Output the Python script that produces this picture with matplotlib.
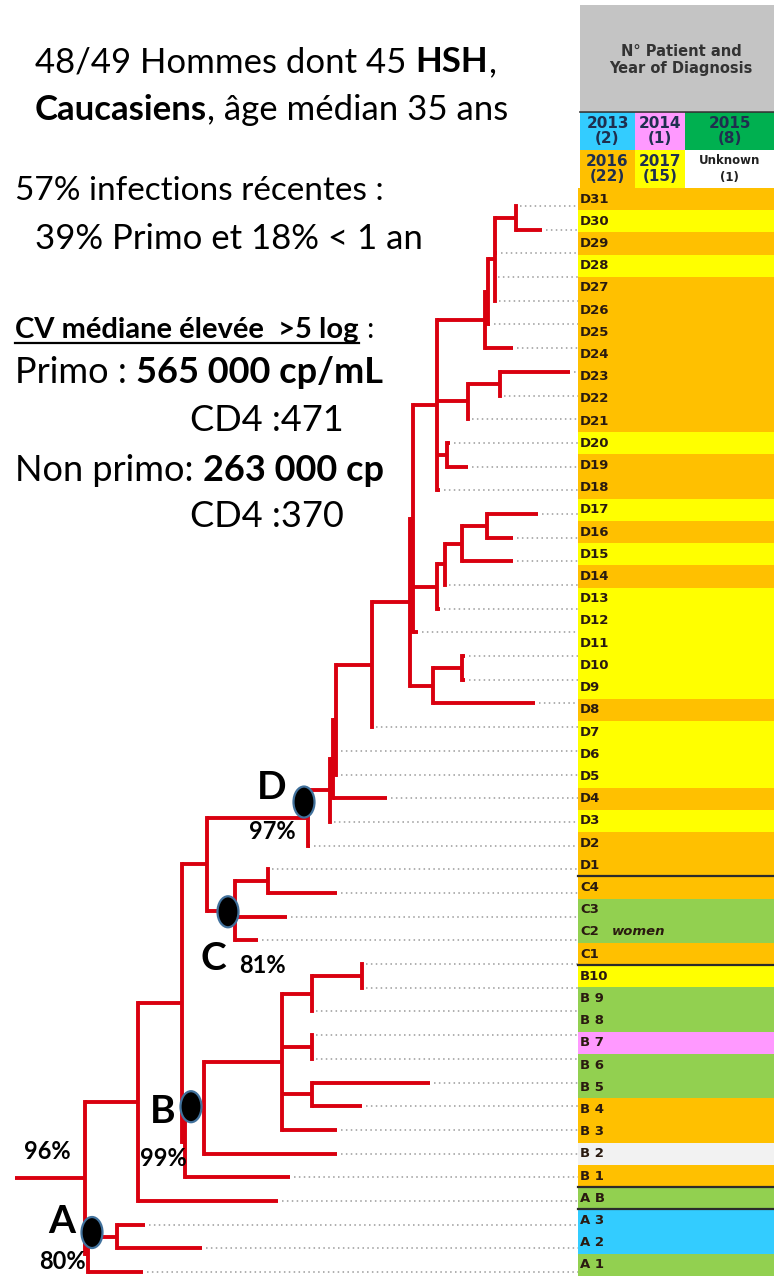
import matplotlib
matplotlib.use("Agg")
import matplotlib.pyplot as plt
from matplotlib.patches import Rectangle, Ellipse

FONT = "Lato"
TFONT = "DejaVu Sans"
RED = "#d9000f"

# patients (table rows, top to bottom) and year of diagnosis
patients = ["D31", "D30", "D29", "D28", "D27", "D26", "D25", "D24", "D23", "D22",
            "D21", "D20", "D19", "D18", "D17", "D16", "D15", "D14", "D13", "D12",
            "D11", "D10", "D9", "D8", "D7", "D6", "D5", "D4", "D3", "D2", "D1",
            "C4", "C3", "C2", "C1",
            "B10", "B 9", "B 8", "B 7", "B 6", "B 5", "B 4", "B 3", "B 2", "B 1",
            "A B", "A 3", "A 2", "A 1"]
diag_year = ["2016", "2017", "2016", "2017", "2016", "2016", "2016", "2016", "2016", "2016",
             "2016", "2017", "2016", "2016", "2017", "2016", "2017", "2016", "2017", "2017",
             "2017", "2017", "2017", "2016", "2017", "2017", "2017", "2016", "2017", "2016", "2016",
             "2016", "2015", "2015", "2016",
             "2017", "2015", "2015", "2014", "2015", "2015", "2016", "2016", "Unknown", "2016",
             "2015", "2013", "2013", "2015"]
patient_notes = {"C2": "women"}
group_breaks = ["D1", "C1", "B 1", "A B"]   # black line under these rows

years = ["2013", "2014", "2015", "2016", "2017", "Unknown"]
year_counts = [2, 1, 8, 22, 15, 1]
legend_colors = ["#33ccff", "#ff99ff", "#00b050", "#ffc000", "#ffff00", "#ffffff"]
row_colors_by_year = {"2013": "#33ccff", "2014": "#ff99ff", "2015": "#92d050",
                      "2016": "#ffc000", "2017": "#ffff00", "Unknown": "#f2f2f2"}

# tree: tip end positions (top to bottom) and internal nodes (position, children)
tip_x = [516, 542, 497, 494, 495, 490, 513, 570, 500, 468,
         450, 468, 440, 538, 513, 513, 445, 440, 418, 465,
         465, 535, 372, 337, 337, 387, 330, 310, 268, 337,
         287, 258, 362, 362, 312, 312, 312, 430, 362, 337,
         337, 290, 278, 145, 202, 143]
tree = {
    "root": (85, ["n138", "nA"]),
    "nA": (88, ["n117", 45]),
    "n117": (117, [43, 44]),
    "n138": (138, ["n182", 42]),
    "n182": (182, ["n207", "n185"]),
    "n185": (185, ["nB", 41]),
    "nB": (204, ["n282", 40]),
    "n282": (282, ["n312a", "n312b", "n312c", 39]),
    "n312a": (312, ["n362", 34]),
    "n362": (362, [32, 33]),
    "n312b": (312, [35, 36]),
    "n312c": (312, [37, 38]),
    "n207": (207, ["nD", "nC"]),
    "nC": (235, ["n268", 30, 31]),
    "n268": (268, [28, 29]),
    "nD": (308, ["n330", 27]),
    "n330": (330, ["n333", 26]),
    "n333": (333, ["n336", 25]),
    "n336": (336, ["n372", 23, 24]),
    "n372": (372, ["n410", 22]),
    "n410": (410, ["n411", "n433"]),
    "n411": (413, ["n437a", "n437b", 18]),
    "n433": (433, ["n462b", 21]),
    "n462b": (462, [19, 20]),
    "n437b": (437, ["n445", 17]),
    "n445": (445, ["n462", 16]),
    "n462": (462, ["n487", 15]),
    "n487": (487, [13, 14]),
    "n437a": (437, ["n485", "n468", "n447", 12]),
    "n447": (447, [10, 11]),
    "n468": (468, ["n500", 9]),
    "n500": (500, [7, 8]),
    "n485": (485, ["n490", 6]),
    "n490": (488, ["n495", 5]),
    "n495": (495, ["n516", 2, 3, 4]),
    "n516": (516, [0, 1]),
}
root_start = 15
clades = ["A", "B", "C", "D"]
clade_nodes = ["n117", "nB", "nC", "nD"]
clade_support = ["80%", "99%", "81%", "97%"]
root_support = "96%"

fig = plt.figure(figsize=(7.74, 12.76), dpi=100)
ax = fig.add_axes([0, 0, 1, 1])
ax.set_xlim(0, 774)
ax.set_ylim(1276, 0)
ax.axis("off")

# ---------------- tree
tip_y = [206 + 23.69 * i for i in range(len(tip_x))]
pos = {}


def place(n):
    if isinstance(n, int):
        return tip_x[n], tip_y[n]
    if n not in pos:
        x, kids = tree[n]
        ys = [place(k)[1] for k in kids]
        pos[n] = (x, (min(ys) + max(ys)) / 2)
    return pos[n]


for i, x in enumerate(tip_x):
    ax.plot([x + 4, 578], [tip_y[i], tip_y[i]], color="#9a9a9a", lw=1.1,
            ls=(0, (1, 2.2)), zorder=1)

for n, (x, kids) in tree.items():
    px, py = place(n)
    ys = []
    for k in kids:
        kx, ky = place(k)
        ax.plot([px, kx], [ky, ky], color=RED, lw=2.8, solid_capstyle="butt", zorder=2)
        ys.append(ky)
    ax.plot([px, px], [min(ys), max(ys)], color=RED, lw=2.8,
            solid_capstyle="projecting", zorder=2)
rx, ry = place("root")
ax.plot([root_start, rx], [ry, ry], color=RED, lw=2.8, solid_capstyle="butt", zorder=2)

# clade markers: circle offset from node, letter and support offsets from circle
circle_off = {"A": (-25, -4), "B": (-13, -1), "C": (-7, 1), "D": (-4, -16)}
letter_off = {"A": (-30, -11), "B": (-28, 5), "C": (-15, 47), "D": (-32, -15)}
support_off = {"A": (-30, 29), "B": (-28, 52), "C": (34, 54), "D": (-32, 29)}
for name, node, sup in zip(clades, clade_nodes, clade_support):
    nx, ny = place(node)
    cx, cy = nx + circle_off[name][0], ny + circle_off[name][1]
    ax.add_patch(Ellipse((cx, cy), 21, 31, fc="black", ec="#41719c", lw=1.6, zorder=5))
    ax.text(cx + letter_off[name][0], cy + letter_off[name][1], name, fontsize=28,
            fontweight="bold", fontfamily=FONT, ha="center", va="center")
    ax.text(cx + support_off[name][0], cy + support_off[name][1], sup, fontsize=17,
            fontweight="bold", fontfamily=FONT, ha="center", va="center")
ax.text(47, ry - 27, root_support, fontsize=17, fontweight="bold", fontfamily=FONT,
        ha="center", va="center")

# ---------------- table
x0, x1 = 578, 774
row_top = 188
row_h = (1276 - row_top) / len(patients)
row_y = [row_top + row_h * (i + 0.5) for i in range(len(patients))]
ax.barh(row_y, x1 - x0, left=x0, height=row_h,
        color=[row_colors_by_year[y] for y in diag_year], linewidth=0, zorder=1)
for y, lab in zip(row_y, patients):
    ax.text(580, y, lab, fontsize=9.5, fontweight="bold", fontfamily=TFONT,
            color="#2a1a10", va="center", ha="left")
    if lab in patient_notes:
        ax.text(612, y, patient_notes[lab], fontsize=9.5, fontstyle="italic",
                fontweight="bold", fontfamily=TFONT, color="#2a1a10", va="center")
for lab in group_breaks:
    i = patients.index(lab)
    yb = row_top + row_h * (i + 1)
    ax.plot([x0, x1], [yb, yb], color="#2b2b2b", lw=1.6, zorder=3)

# header and year legend
ax.add_patch(Rectangle((580, 5), 194, 106, fc="#c4c4c4", ec="none"))
ax.text(681, 60, "N° Patient and\nYear of Diagnosis", fontsize=10.5, fontweight="bold",
        fontfamily=TFONT, color="#333333", ha="center", va="center", linespacing=1.15)
cell_left = [580, 635, 685]
cell_w = [55, 50, 89]
for j, (yr, cnt, col) in enumerate(zip(years, year_counts, legend_colors)):
    r, c = divmod(j, 3)
    yc = 131 + 38 * r
    ax.barh(yc, cell_w[c], left=cell_left[c], height=38, color=col, linewidth=0)
    if yr == "Unknown":
        ax.text(cell_left[c] + cell_w[c] / 2, yc, f"{yr}\n({cnt})", fontsize=8.5,
                fontweight="bold", fontfamily=TFONT, color="#222222", ha="center",
                va="center", linespacing=1.3)
    else:
        ax.text(cell_left[c] + cell_w[c] / 2, yc, f"{yr}\n({cnt})", fontsize=11,
                fontweight="bold", fontfamily=TFONT, color="#1f2f4f", ha="center",
                va="center", linespacing=1.05)
ax.plot([580, 774], [112, 112], color="#333333", lw=1.2)

# ---------------- text block on the left
fig.canvas.draw()
R = fig.canvas.get_renderer()


def wdt(s, size, weight):
    t = ax.text(0, 0, s, fontsize=size, fontweight=weight, fontfamily=FONT)
    w = t.get_window_extent(renderer=R).width
    t.remove()
    return w


def write(x, y, parts, size=25):
    for s, style in parts:
        weight = "bold" if "b" in style else "normal"
        sw = wdt("a a", size, weight) - wdt("aa", size, weight)
        lead = len(s) - len(s.lstrip(" "))
        trail = len(s) - len(s.rstrip(" "))
        x += lead * sw
        t = ax.text(x, y, s.strip(" "), fontsize=size, fontweight=weight,
                    fontfamily=FONT, va="baseline", ha="left")
        w = t.get_window_extent(renderer=R).width
        if "u" in style:
            ax.plot([x, x + w + trail * sw], [y + 5, y + 5], color="black", lw=1.6)
        x += w + trail * sw


write(35, 72, [("48/49 Hommes dont 45 ", ""), ("HSH", "b"), (",", "")])
write(35, 120, [("Caucasiens", "b"), (", âge médian 35 ans", "")])
write(15, 200, [("57% infections récentes :", "")], size=24)
write(35, 249, [("39% Primo et 18% < 1 an", "")])
write(15, 338, [("CV médiane élevée  >5 log", "bu"), (" :", "")], size=21)
write(15, 383, [("Primo : ", ""), ("565 000 cp/mL", "b")], size=26)
write(190, 431, [("CD4 :471", "")], size=26)
write(15, 481, [("Non primo: ", ""), ("263 000 cp", "b")], size=26)
write(190, 527, [("CD4 :370", "")], size=26)

fig.savefig("out.png", dpi=100)
